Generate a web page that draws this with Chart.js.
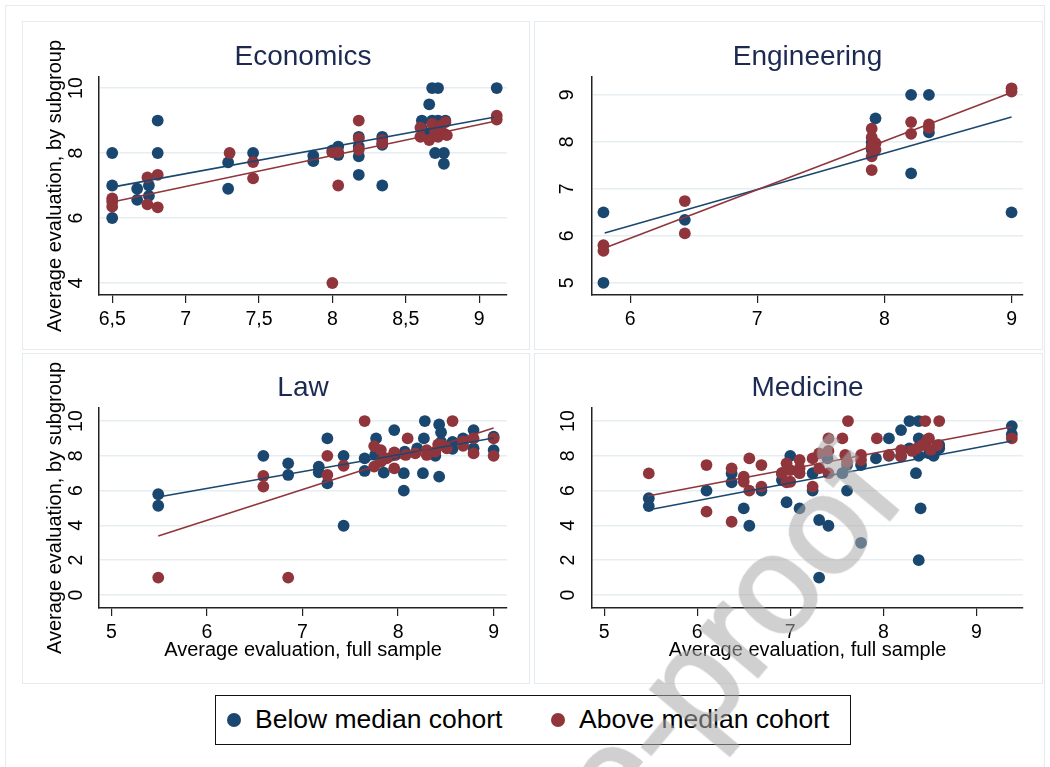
<!DOCTYPE html>
<html>
<head>
<meta charset="utf-8">
<script src="https://cdn.jsdelivr.net/npm/chart.js@4.4.1/dist/chart.umd.min.js"></script>
<style>
  body { margin: 0; width: 1050px; height: 767px; overflow: hidden; background: #fff; position: relative;
         font-family: "Liberation Sans", Arial, sans-serif; }
  .marco { position: absolute; box-shadow: inset 0 0 0 1px #e4ecef; }
  canvas { position: absolute; }
  #leyenda { position: absolute; left: 215px; top: 695px; width: 636px; height: 50px; box-sizing: border-box;
             border: 1.5px solid #111; }
  .punto { position: absolute; top: 17px; width: 14px; height: 14px; border-radius: 50%; }
  .texto { position: absolute; top: 0; line-height: 47px; font-size: 26.5px; color: #000; white-space: nowrap; }
  #marca { position: absolute; left: 121px; top: 1252px; font-size: 140px; line-height: 1;
           white-space: nowrap; color: #aaa; -webkit-text-stroke: 3px #aaa; opacity: 0.55;
           transform-origin: 0 0; transform: rotate(-50deg); pointer-events: none; }
</style>
</head>
<body>
<div class="marco" style="left:5px;top:5px;width:1040px;height:800px;"></div>
<div class="marco" style="left:22px;top:21px;width:508px;height:329px;"></div>
<div class="marco" style="left:534px;top:21px;width:509px;height:329px;"></div>
<div class="marco" style="left:22px;top:353px;width:508px;height:331px;"></div>
<div class="marco" style="left:534px;top:353px;width:509px;height:331px;"></div>

<canvas id="econ" width="508" height="329" style="left:22px;top:21px;"></canvas>
<canvas id="ing" width="509" height="329" style="left:534px;top:21px;"></canvas>
<canvas id="law" width="508" height="331" style="left:22px;top:353px;"></canvas>
<canvas id="med" width="509" height="331" style="left:534px;top:353px;"></canvas>

<div id="leyenda">
  <span class="punto" style="left:11px;background:#1a476f;"></span>
  <span class="texto" style="left:39px;">Below median cohort</span>
  <span class="punto" style="left:335px;background:#90353b;"></span>
  <span class="texto" style="left:363px;">Above median cohort</span>
</div>

<div id="marca">Journal Pre-proof</div>

<script>
// Colores de las series
const AZUL = '#1a476f';
const ROJO = '#90353b';

// Economics
const econXTicks = [6.5, 7, 7.5, 8, 8.5, 9];
const econXLabels = ['6,5', '7', '7,5', '8', '8,5', '9'];
const econYTicks = [4, 6, 8, 10];
const econYLabels = ['4', '6', '8', '10'];
const econBelow = [[6.5,8],[6.5,7],[6.5,6],[6.67,6.9],[6.67,6.56],[6.75,7],[6.75,6.68],[6.81,9],[6.81,8],
  [7.29,7.71],[7.29,6.9],[7.46,8],[7.87,7.92],[7.87,7.75],[8.0,8.08],[8.04,8.2],[8.04,7.94],[8.18,8.5],
  [8.18,8.2],[8.18,7.9],[8.18,7.33],[8.34,8.5],[8.34,8.25],[8.34,7],[8.61,9],[8.61,8.75],[8.66,9.5],
  [8.68,10],[8.72,10],[8.68,9],[8.72,9],[8.7,8],[8.76,8],[8.76,7.67],[8.77,9],[8.66,8.6],[9.12,10]];
const econAbove = [[6.5,6.6],[6.5,6.5],[6.5,6.35],[6.74,7.25],[6.74,6.42],[6.81,7.33],[6.81,6.33],[7.3,8],
  [7.46,7.72],[7.46,7.22],[8.0,8.02],[8.04,8.02],[8.04,7],[8.0,4],[8.18,9],[8.18,8.45],[8.18,8.1],
  [8.34,8.4],[8.34,8.3],[8.6,8.78],[8.6,8.5],[8.66,8.4],[8.68,8.9],[8.7,8.65],[8.72,8.5],[8.74,8.85],
  [8.76,8.6],[8.77,8.95],[8.78,8.55],[9.12,9.15],[9.12,9.03]];
const econBelowFit = [[6.5,6.95],[9.1,9.1]];
const econAboveFit = [[6.5,6.49],[9.1,8.97]];

// Engineering
const ingXTicks = [6, 7, 8, 9];
const ingXLabels = ['6', '7', '8', '9'];
const ingYTicks = [5, 6, 7, 8, 9];
const ingYLabels = ['5', '6', '7', '8', '9'];
const ingBelow = [[5.79,6.5],[5.79,5.0],[6.43,6.34],[7.9,7.99],[7.9,7.83],[7.93,8.5],[8.21,9.0],[8.21,7.33],
  [8.35,9.0],[8.35,8.2],[9.0,6.5]];
const ingAbove = [[5.79,5.8],[5.79,5.68],[6.43,6.74],[6.43,6.05],[7.9,8.28],[7.9,8.1],[7.93,7.97],[7.9,7.9],
  [7.93,7.83],[7.9,7.69],[7.9,7.4],[8.21,8.42],[8.21,8.17],[8.35,8.37],[8.35,8.3],[9.0,9.14],[9.0,9.07]];
const ingBelowFit = [[5.8,6.06],[9.0,8.53]];
const ingAboveFit = [[5.8,5.74],[9.0,9.05]];

// Law
const lawXTicks = [5, 6, 7, 8, 9];
const lawXLabels = ['5', '6', '7', '8', '9'];
const lawYTicks = [0, 2, 4, 6, 8, 10];
const lawYLabels = ['0', '2', '4', '6', '8', '10'];
const lawBelow = [[5.49,5.79],[5.49,5.13],[6.59,8.0],[6.85,7.57],[6.85,6.9],[7.17,7.38],[7.17,7.05],[7.26,9.0],
  [7.26,6.42],[7.43,8.0],[7.43,3.98],[7.65,7.85],[7.65,7.13],[7.77,9.0],[7.85,7.03],[7.96,9.48],[8.06,7.0],
  [8.06,6.0],[8.26,7.0],[8.28,10],[8.27,9.0],[8.43,9.8],[8.43,6.8],[8.39,8.0],[8.45,9.35],[8.45,8.8],
  [8.57,8.4],[8.57,8.8],[8.68,9.0],[8.79,9.48],[8.79,8.43],[9.0,9.1],[9.0,8.33],[8.2,8.43],[7.97,8.05],
  [7.76,8.05],[8.07,8.24]];
const lawAbove = [[5.49,1.0],[6.85,1.0],[6.59,6.84],[6.59,6.23],[7.26,8.0],[7.26,6.9],[7.43,7.43],[7.65,10],
  [7.75,8.56],[7.75,7.38],[7.82,8.33],[7.82,7.66],[7.88,7.85],[7.96,8.2],[7.96,7.28],[8.1,9.0],[8.08,8.05],
  [8.18,8.14],[8.3,8.05],[8.3,8.33],[8.42,8.66],[8.46,8.62],[8.51,8.43],[8.57,10],[8.68,8.58],[8.68,8.81],
  [8.79,9.0],[8.79,8.14],[9.0,9.0],[9.0,8.0],[8.39,8.24]];
const lawBelowFit = [[5.49,5.63],[9.0,9.02]];
const lawAboveFit = [[5.49,3.39],[9.0,9.6]];

// Medicine
const medXTicks = [5, 6, 7, 8, 9];
const medXLabels = ['5', '6', '7', '8', '9'];
const medYTicks = [0, 2, 4, 6, 8, 10];
const medYLabels = ['0', '2', '4', '6', '8', '10'];
const medBelow = [[5.48,5.56],[5.48,5.11],[6.1,6.0],[6.37,6.99],[6.37,6.48],[6.5,4.98],[6.56,3.98],[6.69,6.0],
  [6.91,6.61],[6.91,7.0],[7.0,8.0],[6.96,5.33],[7.1,4.98],[7.24,7.0],[7.24,6.0],[7.31,4.31],[7.31,1.0],
  [7.41,3.98],[7.4,7.85],[7.56,7.0],[7.61,7.47],[7.61,6.0],[7.76,3.0],[7.76,7.47],[7.92,7.85],[8.06,9.0],
  [8.19,9.48],[8.28,10],[8.38,10],[8.38,9.0],[8.38,8.0],[8.35,7.0],[8.38,2.0],[8.4,4.98],[8.49,8.14],
  [8.54,8.0],[8.6,8.62],[8.6,8.43],[8.28,8.43],[9.38,9.71],[9.38,9.23],[8.06,8.0],[8.19,8.0]];
const medAbove = [[5.48,6.99],[6.1,7.47],[6.1,4.79],[6.37,7.28],[6.37,4.21],[6.5,6.8],[6.5,6.51],[6.56,7.85],
  [6.56,6.0],[6.69,7.47],[6.69,6.23],[6.96,7.57],[6.91,7.0],[6.96,6.48],[7.0,7.18],[7.0,6.51],[7.1,7.76],
  [7.1,7.0],[7.1,7.28],[7.24,7.85],[7.24,6.23],[7.31,8.14],[7.31,7.28],[7.41,9.0],[7.41,8.28],[7.41,7.0],
  [7.56,9.0],[7.59,8.05],[7.62,10],[7.61,7.66],[7.76,8.05],[7.76,7.76],[7.93,9.0],[8.06,8.05],[8.19,8.33],
  [8.19,7.95],[8.31,8.28],[8.42,8.62],[8.45,10],[8.47,8.91],[8.49,9.0],[8.51,8.33],[8.6,10],[8.58,8.62],
  [9.38,9.0],[8.36,8.43]];
const medBelowFit = [[5.47,4.89],[9.38,8.85]];
const medAboveFit = [[5.47,5.69],[9.38,9.66]];

Chart.defaults.font.family = '"Liberation Sans", Arial, sans-serif';

function aPuntos(pares) {
  return pares.map(p => ({ x: p[0], y: p[1] }));
}

/* Función para dibujar un panel con sus dos nubes de puntos y sus rectas */
function crearPanel(id, d, caja) {
  new Chart(document.getElementById(id), {
    type: 'scatter',
    data: {
      datasets: [
        { data: aPuntos(d.aboveFit), showLine: true, borderColor: ROJO, borderWidth: 1.6, pointRadius: 0, order: 0 },
        { data: aPuntos(d.belowFit), showLine: true, borderColor: AZUL, borderWidth: 1.6, pointRadius: 0, order: 1 },
        { data: aPuntos(d.above), backgroundColor: ROJO, borderColor: ROJO, pointRadius: 5.9, borderWidth: 0, order: 2 },
        { data: aPuntos(d.below), backgroundColor: AZUL, borderColor: AZUL, pointRadius: 5.9, borderWidth: 0, order: 3 }
      ]
    },
    options: {
      responsive: false,
      animation: false,
      devicePixelRatio: 1,
      layout: { padding: { left: 0, top: 0, right: caja.padRight, bottom: 0 } },
      plugins: {
        legend: { display: false },
        tooltip: { enabled: false },
        title: {
          display: true, text: d.title, color: '#1c2a52', fullSize: false,
          font: { size: 28, weight: 'normal', lineHeight: 1.1 },
          padding: { top: caja.titleTop, bottom: caja.titleBottom }
        }
      },
      scales: {
        x: {
          type: 'linear', min: d.xMin, max: d.xMax,
          afterBuildTicks: s => { s.ticks = d.xTicks.map(v => ({ value: v })); },
          afterFit: s => { s.height = caja.xHeight; },
          ticks: { callback: (v, i) => d.xLabels[i], color: '#000', font: { size: 19.5 }, padding: 5,
                   maxRotation: 0, autoSkip: false },
          grid: { display: true, drawOnChartArea: false, drawTicks: true, tickLength: 8, color: '#222', lineWidth: 1.2 },
          border: { display: true, color: '#222', width: 1.5 },
          title: { display: d.xTitle, text: 'Average evaluation, full sample', color: '#000',
                   font: { size: 20 }, padding: { top: 0, bottom: 22 } }
        },
        y: {
          type: 'linear', min: d.yMin, max: d.yMax,
          afterBuildTicks: s => { s.ticks = d.yTicks.map(v => ({ value: v })); },
          afterFit: s => { s.width = caja.yWidth; },
          ticks: { callback: (v, i) => d.yLabels[i], color: '#000', font: { size: 19.5 }, padding: caja.yPad,
                   minRotation: 90, maxRotation: 90, crossAlign: 'center', autoSkip: false },
          grid: { color: '#e6eef1', lineWidth: 1.5, drawTicks: false },
          border: { display: true, color: '#222', width: 1.5 },
          title: { display: d.yTitle, text: 'Average evaluation, by subgroup', color: '#000',
                   font: { size: 20 }, padding: { top: 21, bottom: 0 } }
        }
      }
    }
  });
}

crearPanel('econ', {
  title: 'Economics', xMin: 6.41, xMax: 9.19, yMin: 3.63, yMax: 10.34,
  xTicks: econXTicks, xLabels: econXLabels, yTicks: econYTicks, yLabels: econYLabels,
  below: econBelow, above: econAbove, belowFit: econBelowFit, aboveFit: econAboveFit,
  xTitle: false, yTitle: true
}, { padRight: 23, yWidth: 77, xHeight: 55, titleTop: 20.6, titleBottom: 4.6, yPad: 12 });

crearPanel('ing', {
  title: 'Engineering', xMin: 5.70, xMax: 9.09, yMin: 4.74, yMax: 9.38,
  xTicks: ingXTicks, xLabels: ingXLabels, yTicks: ingYTicks, yLabels: ingYLabels,
  below: ingBelow, above: ingAbove, belowFit: ingBelowFit, aboveFit: ingAboveFit,
  xTitle: false, yTitle: false
}, { padRight: 20, yWidth: 58, xHeight: 55, titleTop: 20.6, titleBottom: 4.6, yPad: 19 });

crearPanel('law', {
  title: 'Law', xMin: 4.87, xMax: 9.14, yMin: -0.75, yMax: 10.75,
  xTicks: lawXTicks, xLabels: lawXLabels, yTicks: lawYTicks, yLabels: lawYLabels,
  below: lawBelow, above: lawAbove, belowFit: lawBelowFit, aboveFit: lawAboveFit,
  xTitle: true, yTitle: true
}, { padRight: 23, yWidth: 77, xHeight: 76, titleTop: 19.6, titleBottom: 4.6, yPad: 12 });

crearPanel('med', {
  title: 'Medicine', xMin: 4.87, xMax: 9.50, yMin: -0.75, yMax: 10.75,
  xTicks: medXTicks, xLabels: medXLabels, yTicks: medYTicks, yLabels: medYLabels,
  below: medBelow, above: medAbove, belowFit: medBelowFit, aboveFit: medAboveFit,
  xTitle: true, yTitle: false
}, { padRight: 20, yWidth: 58, xHeight: 76, titleTop: 19.6, titleBottom: 4.6, yPad: 13 });
</script>
</body>
</html>
